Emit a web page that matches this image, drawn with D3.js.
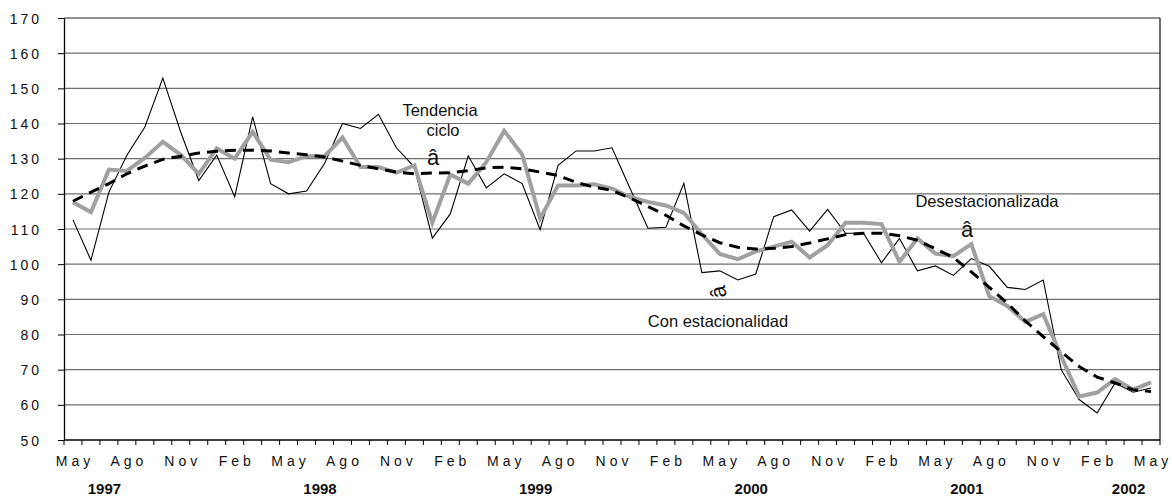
<!DOCTYPE html>
<html lang="es">
<head>
  <meta charset="UTF-8">
  <title>Tendencia ciclo</title>
  <script src="https://d3js.org/d3.v7.min.js"></script>
  <style>
    html, body { margin: 0; padding: 0; background: #fff; }
    svg { display: block; font-family: "Liberation Sans", Arial, sans-serif; }
    .grid line { stroke: #6e6e6e; stroke-width: 1.2px; }
    .tick-lbl { font-size: 14px; letter-spacing: 3px; fill: #111; }
    .month-lbl { font-size: 14px; letter-spacing: 4px; fill: #111; }
    .year-lbl { font-size: 15px; font-weight: bold; fill: #111; }
    .note { font-size: 16.5px; fill: #111; }
  </style>
</head>
<body>
  <div id="container"></div>
  <script>
    // data (monthly, May 1997 - May 2002)
    const monthNames = ['Ene','Feb','Mar','Abr','May','Jun','Jul','Ago','Sep','Oct','Nov','Dic'];
    const categories = [];
    for (let k = 0; k < 61; k++) {
      const m = (4 + k) % 12, yr = 1997 + Math.floor((4 + k) / 12);
      categories.push(monthNames[m] + ' ' + yr);
    }

    // with seasonality (thin black)
    const original = [112.6, 101.1, 120.5, 131, 139, 152.9, 137.5, 123.8, 131, 119.2,
      141.9, 122.9, 120, 120.8, 128.6, 140, 138.6, 142.6, 133.1, 127.6,
      107.4, 114.3, 130.8, 121.7, 125.7, 122.9, 109.8, 128.1, 132.2, 132.2,
      133.1, 121.6, 110.2, 110.5, 123, 97.6, 98.1, 95.5, 97.2, 113.5,
      115.4, 109.4, 115.6, 108.8, 108.8, 100.4, 107.3, 98.1, 99.5, 96.8,
      101.6, 99.4, 93.4, 92.8, 95.5, 70, 61.5, 57.7, 66.2, 63.6, 64.8];

    // seasonally adjusted (thick grey)
    const adjusted = [117.6, 114.8, 126.9, 126.5, 130.2, 134.8, 131.1, 125.7, 132.9, 130,
      137.6, 129.7, 129, 130.7, 130.7, 136, 127.6, 127.6, 126, 128.1,
      111.8, 125.5, 122.9, 129, 137.9, 131.2, 113, 122.4, 122.4, 122.7,
      121.5, 119.1, 117.7, 116.7, 114.6, 108.5, 102.9, 101.4, 103.6, 105,
      106.4, 101.9, 105.4, 111.8, 111.8, 111.4, 100.7, 107.3, 103, 102.3,
      105.7, 90.9, 88.1, 83.6, 85.8, 73.8, 62.4, 63.5, 67.3, 64.3, 66.4];

    // trend-cycle (dashed)
    const trend = [117.9, 120.5, 122.9, 125.7, 127.9, 129.8, 130.7, 131.6, 132.1, 132.4,
      132.4, 132.2, 131.6, 131.1, 130.5, 129.3, 128.1, 127.1, 126.2, 125.7,
      125.9, 126, 126.6, 127.4, 127.6, 127.1, 126.2, 125.2, 123.3, 121.9,
      121, 118.8, 116.4, 113.9, 110.9, 108.3, 106.1, 104.8, 104.3, 104.5,
      105, 106, 107.2, 108.4, 108.8, 108.8, 108.1, 106.8, 104.4, 101.9,
      97.8, 93.4, 88.9, 83.9, 79.4, 75.1, 70.9, 67.9, 66.2, 64.3, 63.8];

    const yTicks = [50, 60, 70, 80, 90, 100, 110, 120, 130, 140, 150, 160, 170];
    const monthTicks = categories.filter((c, i) => i % 3 === 0);
    const years = ['1997', '1998', '1999', '2000', '2001', '2002'];
    const yearAnchors = ['Jul 1997', 'Jul 1998', 'Jul 1999', 'Jul 2000', 'Jul 2001', 'Abr 2002'];

    const width = 1172, height = 497;
    const plot = {left: 64, right: 1160, top: 18, bottom: 440};

    const svg = d3.select('#container').append('svg')
      .attr('width', width).attr('height', height);

    const x = d3.scaleBand().domain(categories).range([plot.left, plot.right]).padding(0);
    const bw = x.bandwidth();
    const y = d3.scaleLinear().domain([50, 170]).range([plot.bottom, plot.top]);

    // gridlines
    svg.append('g').attr('class', 'grid')
      .selectAll('line').data(yTicks.filter(v => v > 50)).enter().append('line')
      .attr('x1', plot.left).attr('x2', plot.right)
      .attr('y1', d => y(d)).attr('y2', d => y(d))
      .style('stroke', d => d === 170 ? '#222' : null);

    // right border
    svg.append('line')
      .attr('x1', plot.right).attr('x2', plot.right)
      .attr('y1', plot.top).attr('y2', plot.bottom)
      .attr('stroke', '#111').attr('stroke-width', 1.2);

    // y axis
    const yAxis = d3.axisLeft(y).tickValues(yTicks).tickSize(6).tickSizeOuter(0).tickFormat(d3.format('d'));
    const gy = svg.append('g').attr('transform', `translate(${plot.left},0)`).call(yAxis);
    gy.attr('font-family', null).attr('font-size', null);
    gy.select('.domain').attr('stroke', '#000').attr('stroke-width', 1.3);
    gy.selectAll('.tick line').attr('stroke', '#000');
    gy.selectAll('.tick text').attr('class', 'tick-lbl').attr('x', -22).attr('dy', '0.36em');

    // x axis: ticks between categories
    const gx = svg.append('g');
    gx.append('line').attr('x1', plot.left).attr('x2', plot.right)
      .attr('y1', plot.bottom).attr('y2', plot.bottom)
      .attr('stroke', '#000').attr('stroke-width', 1.3);
    gx.selectAll('.xt').data(categories.concat(['end'])).enter().append('line')
      .attr('class', 'xt')
      .attr('x1', (d, i) => i < categories.length ? x(d) : plot.right)
      .attr('x2', (d, i) => i < categories.length ? x(d) : plot.right)
      .attr('y1', plot.bottom).attr('y2', plot.bottom + 5)
      .attr('stroke', '#000');
    gx.selectAll('.month-lbl').data(monthTicks).enter().append('text')
      .attr('class', 'month-lbl')
      .attr('text-anchor', 'middle')
      .attr('x', d => x(d) + bw / 2 + 2)
      .attr('y', 466)
      .text(d => d.split(' ')[0]);
    gx.selectAll('.year-lbl').data(years).enter().append('text')
      .attr('class', 'year-lbl')
      .attr('text-anchor', 'middle')
      .attr('x', (d, i) => x(yearAnchors[i]) + bw * 0.25)
      .attr('y', 494)
      .text(d => d);

    // lines
    const line = d3.line().x((d, i) => x(categories[i]) + bw / 2).y(d => y(d));

    svg.append('path').datum(original)
      .attr('fill', 'none').attr('stroke', '#000').attr('stroke-width', 1.1)
      .attr('stroke-linejoin', 'miter').attr('d', line);

    svg.append('path').datum(adjusted)
      .attr('fill', 'none').attr('stroke', '#a0a0a0').attr('stroke-width', 4)
      .attr('stroke-linejoin', 'miter').attr('d', line);

    svg.append('path').datum(trend)
      .attr('fill', 'none').attr('stroke', '#000').attr('stroke-width', 3)
      .attr('stroke-dasharray', '11,7').attr('d', line);

    // annotations
    const notes = svg.append('g').attr('text-anchor', 'middle');
    notes.append('text').attr('class', 'note').attr('x', 440).attr('y', 116).text('Tendencia');
    notes.append('text').attr('class', 'note').attr('x', 443).attr('y', 136).text('ciclo');
    notes.append('text').attr('class', 'note').attr('x', 433).attr('y', 165).style('font-size', '22px').text('â');
    notes.append('text').attr('class', 'note').attr('x', 987).attr('y', 207).text('Desestacionalizada');
    notes.append('text').attr('class', 'note').attr('x', 967).attr('y', 237).style('font-size', '22px').text('â');
    notes.append('text').attr('class', 'note').attr('x', 718).attr('y', 327).text('Con estacionalidad');
    notes.append('text').attr('class', 'note')
      .attr('transform', 'translate(718,292) rotate(-100)')
      .attr('dy', '0.35em').style('font-size', '22px').text('â');
  </script>
</body>
</html>
